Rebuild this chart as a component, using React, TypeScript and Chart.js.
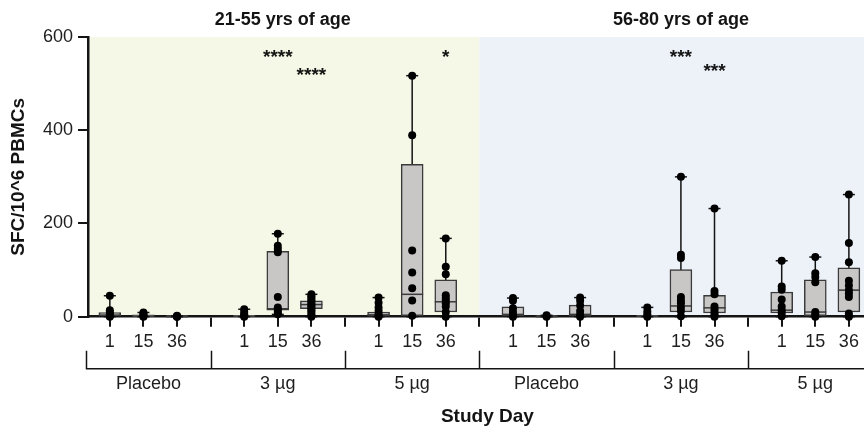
import React, { useEffect, useRef } from 'react';
import { Chart, registerables, ScatterController } from 'chart.js';

// Scatter controller that does not reserve extra layout room for point overflow,
// so the plot area can reach the right edge of the canvas like the reference.
class FlushScatterController extends (ScatterController as any) {
  static id = 'flushScatter';
  static defaults = (ScatterController as any).defaults;
  static overrides = (ScatterController as any).overrides;
  getMaxOverflow() {
    return 0;
  }
}

Chart.register(...registerables, FlushScatterController as any);

// ---------- data ----------
const ageGroups = ['21-55 yrs of age', '56-80 yrs of age'];
const doseGroups = ['Placebo', '3 µg', '5 µg', 'Placebo', '3 µg', '5 µg'];
const studyDays = ['1', '15', '36'];
const yTicks = [0, 200, 400, 600];
const xTitle = 'Study Day';
const yTitle = 'SFC/10^6 PBMCs';

// box statistics, one entry per (dose group, study day) in order
const mins = [0, 0, 0, 0, 5, 0, 0, 0, 0, 0, 0, 0, 0, 0, 0, 0, 0, 0];
const q1s = [0, 0, 0, 0, 14, 17, 1, 0, 10, 0, 0, 1, 0, 10, 8, 8, 0, 10];
const medians = [3, 1, 0, 1, 17, 26, 4, 48, 32, 5, 0, 5, 1, 23, 19, 14, 10, 57];
const q3s = [9, 4, 1, 3, 140, 34, 10, 327, 79, 21, 1, 25, 2, 101, 46, 53, 79, 105];
const maxs = [45, 9, 2, 16, 178, 48, 41, 517, 168, 40, 3, 41, 20, 300, 232, 120, 128, 262];

// individual subject values
const points: number[][] = [
  [45, 14, 10, 6, 2, 0],
  [9, 6, 3, 1, 0],
  [2, 1, 0, 0],
  [16, 10, 5, 2, 0],
  [178, 152, 145, 138, 42, 20, 15, 10, 5],
  [48, 44, 40, 36, 32, 28, 25, 22, 18, 14, 10, 5, 0],
  [41, 30, 20, 12, 6, 2, 0],
  [517, 389, 142, 95, 61, 35, 2],
  [168, 107, 91, 46, 40, 35, 29, 22, 10, 0],
  [40, 34, 18, 10, 3, 0],
  [3, 0],
  [41, 34, 24, 12, 4, 0],
  [20, 11, 5, 0],
  [300, 133, 126, 42, 35, 29, 20, 12, 1],
  [232, 55, 48, 22, 16, 10, 5, 0],
  [120, 65, 58, 37, 22, 14, 8, 1],
  [128, 93, 85, 74, 10, 5, 0],
  [262, 158, 117, 77, 67, 57, 50, 42, 7, 0],
];

// significance markers
const sigLabels = ['****', '****', '*', '***', '***'];
const sigCategory = [4, 5, 8, 13, 14];
const sigHeight = [571, 531, 571, 571, 539];

// ---------- helpers ----------
const X_MIN = -0.65;
const X_MAX = 22.45;
const nGroups = doseGroups.length;
const perGroup = studyDays.length;
const slotOf = (i: number) => Math.floor(i / perGroup) * (perGroup + 1) + (i % perGroup);
const nSlots = nGroups * (perGroup + 1) - 1;
const allSlots = Array.from({ length: nSlots }, (_, k) => k);
const slotLabel = (k: number) => (k % (perGroup + 1) === perGroup ? '' : studyDays[k % (perGroup + 1)]);
// bracket edges (slot units)
const edges = Array.from({ length: nGroups + 1 }, (_, g) => (g === 0 ? X_MIN - 0.05 : g * (perGroup + 1) - 1));

const FONT = '"Liberation Sans", Arial, Helvetica, sans-serif';
const INK = '#141414';

const cats = mins.map((_, i) => i);

const boxData = cats.map((i) => ({ x: slotOf(i), y: [q1s[i], q3s[i]] }));
const whiskerData = cats.flatMap((i) => [
  { x: slotOf(i), y: mins[i] },
  { x: slotOf(i), y: maxs[i] },
  { x: slotOf(i), y: null as any },
]);
const medianData = cats.map((i) => ({ x: slotOf(i), y: medians[i] }));
const capData = cats.flatMap((i) => [
  { x: slotOf(i), y: mins[i] },
  { x: slotOf(i), y: maxs[i] },
]);
const pointData = cats.flatMap((i) => points[i].map((v) => ({ x: slotOf(i), y: v })));

const annotPlugin = {
  id: 'annot',
  beforeDraw(chart: any) {
    const { ctx, chartArea, scales } = chart;
    const x = scales.x;
    const y = scales.y;
    const top = y.getPixelForValue(600);
    const bottom = y.getPixelForValue(0);
    const mid = x.getPixelForValue(edges[3]);
    ctx.save();
    ctx.fillStyle = '#F5F8E6';
    ctx.fillRect(chartArea.left, top, mid - chartArea.left, bottom - top);
    ctx.fillStyle = '#EDF2F9';
    ctx.fillRect(mid, top, chartArea.right - mid, bottom - top);
    ctx.restore();
  },
  afterDraw(chart: any) {
    const { ctx, chartArea, scales } = chart;
    const x = scales.x;
    const y = scales.y;
    ctx.save();
    // age titles
    ctx.fillStyle = INK;
    ctx.font = `bold 18px ${FONT}`;
    ctx.textAlign = 'center';
    ctx.textBaseline = 'middle';
    ageGroups.forEach((t, a) => {
      const from = edges[a * 3];
      const to = edges[a * 3 + 3];
      const cx = (x.getPixelForValue(from) + x.getPixelForValue(to)) / 2;
      ctx.fillText(t, cx, 20);
    });
    // brackets
    const b = chartArea.bottom;
    ctx.strokeStyle = INK;
    ctx.lineWidth = 1.5;
    ctx.beginPath();
    ctx.moveTo(x.getPixelForValue(edges[0]), b + 52);
    ctx.lineTo(x.getPixelForValue(edges[nGroups]), b + 52);
    edges.forEach((e) => {
      const px = Math.round(x.getPixelForValue(e)) + 0.5;
      ctx.moveTo(px, b + 34);
      ctx.lineTo(px, b + 52.75);
    });
    ctx.stroke();
    // group labels
    ctx.font = `18px ${FONT}`;
    ctx.fillStyle = '#1e1e1e';
    doseGroups.forEach((g, k) => {
      const cx = (x.getPixelForValue(edges[k]) + x.getPixelForValue(edges[k + 1])) / 2;
      ctx.fillText(g, cx, b + 67);
    });
    // x axis title, centred under the whole bracket row
    ctx.font = `bold 19px ${FONT}`;
    ctx.fillStyle = INK;
    const tx = (x.getPixelForValue(edges[0]) + x.getPixelForValue(edges[nGroups])) / 2 + 3;
    ctx.fillText(xTitle, tx, b + 100.5);
    // significance
    ctx.textBaseline = 'alphabetic';
    sigLabels.forEach((s, k) => {
      const px = x.getPixelForValue(slotOf(sigCategory[k]));
      const py = y.getPixelForValue(sigHeight[k]);
      ctx.fillText(s, px, py + 12);
    });
    ctx.restore();
  },
};

export default function App() {
  const ref = useRef<HTMLCanvasElement>(null);
  useEffect(() => {
    document.body.style.margin = '0';
    Chart.defaults.font.family = FONT;
    const chart = new Chart(ref.current as HTMLCanvasElement, {
      type: 'bar',
      data: {
        datasets: [
          {
            type: 'flushScatter',
            showLine: true,
            data: whiskerData as any,
            borderColor: INK,
            borderWidth: 1.5,
            pointRadius: 0,
            pointHoverRadius: 0,
            spanGaps: false,
            fill: false,
            order: 5,
            clip: false as any,
          } as any,
          {
            type: 'bar',
            data: boxData as any,
            backgroundColor: '#C9C6C6',
            borderColor: '#3a3a3a',
            borderWidth: 1.5,
            borderSkipped: false,
            barThickness: 22,
            grouped: false,
            order: 4,
            clip: false as any,
          } as any,
          {
            type: 'flushScatter',
            data: medianData as any,
            pointStyle: 'line',
            pointRadius: 11,
            borderColor: '#3a3a3a',
            pointBorderWidth: 1.5,
            order: 3,
            clip: false as any,
          } as any,
          {
            type: 'flushScatter',
            data: capData as any,
            pointStyle: 'line',
            pointRadius: 6,
            borderColor: INK,
            pointBorderWidth: 1.5,
            order: 2,
            clip: false as any,
          } as any,
          {
            type: 'flushScatter',
            data: pointData as any,
            pointStyle: 'circle',
            pointRadius: 4,
            backgroundColor: '#000',
            borderWidth: 0,
            order: 1,
            clip: false as any,
          } as any,
        ],
      },
      options: {
        animation: false,
        responsive: true,
        maintainAspectRatio: false,
        events: [],
        layout: { padding: { top: 37, left: 0, right: 0, bottom: 0 } },
        plugins: { legend: { display: false }, tooltip: { enabled: false }, title: { display: false } },
        scales: {
          x: {
            type: 'linear',
            min: X_MIN,
            max: X_MAX,
            offset: false,
            afterBuildTicks: (s: any) => {
              s.ticks = allSlots.map((v) => ({ value: v }));
            },
            afterFit: (s: any) => {
              s.height = 110.3;
            },
            ticks: {
              autoSkip: false,
              maxRotation: 0,
              padding: 5,
              color: '#1e1e1e',
              font: { size: 18 },
              callback: (_v: any, idx: number) => slotLabel(allSlots[idx]),
            },
            grid: { display: true, drawOnChartArea: false, drawTicks: true, tickLength: 10, color: INK, lineWidth: 2, offset: false },
            border: { display: true, color: INK, width: 2.5 },
            title: { display: false },
          } as any,
          y: {
            type: 'linear',
            min: 0,
            max: 600,
            afterBuildTicks: (s: any) => {
              s.ticks = yTicks.map((v) => ({ value: v }));
            },
            afterFit: (s: any) => {
              s.width = 88;
            },
            ticks: { padding: 5, color: '#1e1e1e', font: { size: 18 } },
            grid: { display: true, drawOnChartArea: false, drawTicks: true, tickLength: 10, color: INK, lineWidth: 2 },
            border: { display: true, color: INK, width: 2.5 },
            title: { display: true, text: yTitle, color: INK, font: { size: 19, weight: 'bold', lineHeight: 1.2 }, padding: { top: 7, bottom: 0 } },
          } as any,
        },
      },
      plugins: [annotPlugin],
    });
    return () => chart.destroy();
  }, []);
  return (
    <div style={{ position: 'absolute', left: 0, top: 0, width: 864, height: 427 }}>
      <canvas ref={ref} />
    </div>
  );
}
